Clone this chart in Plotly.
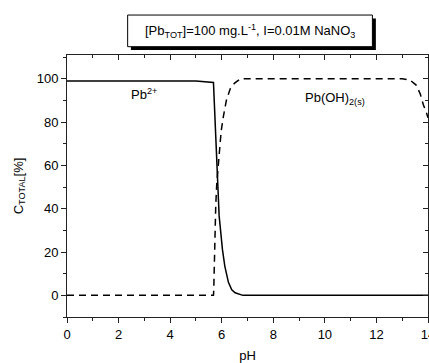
import plotly.graph_objects as go

# Pb2+ (solid)
ph_pb = [0, 5.0, 5.68, 5.75, 5.85, 5.90, 6.03, 6.12, 6.26, 6.39, 6.52, 6.82, 14]
pb = [99, 99, 98.3, 80, 52, 36.7, 21, 13.5, 6, 2.6, 1.2, 0, 0]

# Pb(OH)2(s) (dashed)
ph_oh = [0, 5.68, 5.69, 5.72, 5.77, 5.81, 5.86, 5.91, 5.98, 6.07, 6.18, 6.33, 6.5, 6.72,
         13.0, 13.3, 13.55, 13.7, 13.82, 13.95, 14.0]
oh = [0, 0, 2, 25, 42, 52, 60, 67.5, 76, 83, 90, 95.4, 98, 100,
      100, 99.5, 97, 93, 88, 84, 82]

x_ticks = [0, 2, 4, 6, 8, 10, 12, 14]
y_ticks = [0, 20, 40, 60, 80, 100]

FONT = "Liberation Sans, Arial, sans-serif"

fig = go.Figure()
fig.add_trace(go.Scatter(x=ph_pb, y=pb, mode="lines",
                         line=dict(color="black", width=1.5), showlegend=False))
fig.add_trace(go.Scatter(x=ph_oh, y=oh, mode="lines",
                         line=dict(color="black", width=1.5, dash="7px,5px"), showlegend=False))
fig.add_trace(go.Scatter(x=[], y=[], xaxis="x2", yaxis="y2", showlegend=False))

axis_common = dict(showgrid=False, zeroline=False, showline=True, linecolor="#222",
                   linewidth=1, tickcolor="#222", automargin=False,
                   tickfont=dict(family=FONT, size=13, color="black"))

fig.update_layout(
    width=429, height=363,
    margin=dict(l=67, r=1, t=55, b=46),
    paper_bgcolor="white", plot_bgcolor="white",
    font=dict(family=FONT, size=13, color="black"),
    xaxis=dict(range=[0, 14], tickvals=x_ticks, ticks="outside", ticklen=5,
               ticklabeloverflow="allow",
               minor=dict(dtick=1, tick0=0, ticks="outside", ticklen=3, tickcolor="#222"),
               title=dict(text="pH", standoff=12, font=dict(family=FONT, size=13)),
               **axis_common),
    yaxis=dict(range=[-10, 111], tickvals=y_ticks, ticks="outside", ticklen=5,
               minor=dict(dtick=10, tick0=0, ticks="outside", ticklen=3, tickcolor="#222"),
               title=dict(text="C<sub>TOTAL</sub>[%]", standoff=10, font=dict(family=FONT, size=13)),
               **axis_common),
    xaxis2=dict(range=[0, 14], overlaying="x", side="top", anchor="y2",
                tickvals=x_ticks, ticks="inside", ticklen=5, showticklabels=False,
                minor=dict(dtick=1, tick0=0, ticks="inside", ticklen=3, tickcolor="#222"),
                **axis_common),
    yaxis2=dict(range=[-10, 111], overlaying="y", side="right", anchor="x2",
                tickvals=y_ticks, ticks="inside", ticklen=5, showticklabels=False,
                minor=dict(dtick=10, tick0=0, ticks="inside", ticklen=3, tickcolor="#222"),
                **axis_common),
)

# Title box with shadow
fig.add_shape(type="rect", xref="paper", yref="paper", x0=0.177, x1=0.8556, y0=1.019, y1=1.1392,
              fillcolor="black", line=dict(width=0))
fig.add_shape(type="rect", xref="paper", yref="paper", x0=0.168, x1=0.846, y0=1.0317, y1=1.1525,
              fillcolor="white", line=dict(color="black", width=1))
fig.add_annotation(xref="paper", yref="paper", x=0.507, y=1.092, showarrow=False,
                   text="[Pb<sub>TOT</sub>]=100 mg.L<sup>-1</sup>, I=0.01M NaNO<sub>3</sub>",
                   font=dict(family=FONT, size=13, color="black"),
                   xanchor="center", yanchor="middle")

fig.add_annotation(x=2.4, y=93, text="Pb<sup>2+</sup>", showarrow=False,
                   xanchor="left", yanchor="middle", font=dict(family=FONT, size=13))
fig.add_annotation(x=9.15, y=91, text="Pb(OH)<sub>2(s)</sub>", showarrow=False,
                   xanchor="left", yanchor="middle", font=dict(family=FONT, size=13))

fig.write_html(
    "out.html",
    config={"displayModeBar": False},
    post_script="document.body.style.margin='0';document.documentElement.style.overflow='hidden';document.body.style.overflow='hidden';",
)
